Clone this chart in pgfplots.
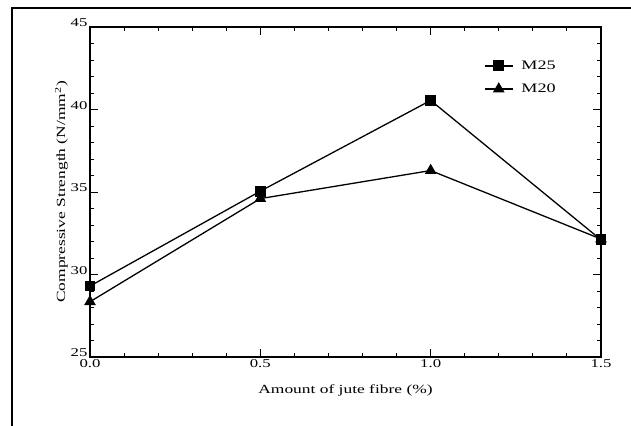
\documentclass[border=0pt]{standalone}
\usepackage{graphicx}
\usepackage{pgfplots}
\pgfplotsset{compat=1.18}
\usepackage{fontspec}
\setmainfont{Liberation Serif}
% the reference's text is drawn wide; stretch it horizontally
\newcommand{\sx}[1]{\scalebox{1.4}[1]{#1}}

\begin{document}
\begin{tikzpicture}
\useasboundingbox (0bp,0bp) rectangle (631bp,426bp);
% outer frame of the figure
\draw[line width=1.2bp] (12bp,-2bp) -- (12bp,418bp) -- (633bp,418bp);
\begin{axis}[
    at={(90bp,69bp)}, anchor=south west,
    width=511bp, height=330bp,
    scale only axis,
    xmin=0, xmax=1.5, ymin=25, ymax=45,
    xtick={0,0.5,1.0,1.5},
    xticklabels={\sx{0.0},\sx{0.5},\sx{1.0},\sx{1.5}},
    ytick={25,30,...,45},
    yticklabels={\sx{25},\sx{30},\sx{35},\sx{40},\sx{45}},
    minor x tick num=4,
    minor y tick num=4,
    tick align=inside,
    major tick length=8bp,
    minor tick length=4bp,
    axis line style={line width=1.2bp},
    every tick/.style={black, line width=0.9bp},
    tick label style={font=\fontsize{12}{13}\selectfont},
    xticklabel style={yshift=1bp},
    yticklabel style={xshift=1bp, yshift=4bp},
    xlabel={\sx{Amount of jute fibre (\%)}},
    ylabel={\sx{Compressive Strength (N/mm\textsuperscript{2})}},
    label style={font=\fontsize{12.5}{14}\selectfont},
    xlabel style={yshift=-10bp},
    ylabel style={yshift=-4bp},
    legend style={draw=none, fill=none, at={(0.765,0.91)}, anchor=north west,
        font=\fontsize{13}{14}\selectfont, row sep=9bp, column sep=6bp},
    legend cell align={left},
    legend image code/.code={%
        \draw[mark repeat=2, mark phase=2, #1]
            plot coordinates {(0bp,0bp) (14bp,0bp) (28bp,0bp)};},
]
\addplot[black, line width=1.3bp, mark=square*, mark size=4.8bp] coordinates {
    (0.0,29.3) (0.5,35.05) (1.0,40.55) (1.5,32.1)
};
\addlegendentry{\sx{M25}}
\addplot[black, line width=1.3bp, mark=triangle*, mark size=5.5bp] coordinates {
    (0.0,28.35) (0.5,34.6) (1.0,36.3) (1.5,32.15)
};
\addlegendentry{\sx{M20}}
\end{axis}
\end{tikzpicture}
\end{document}
